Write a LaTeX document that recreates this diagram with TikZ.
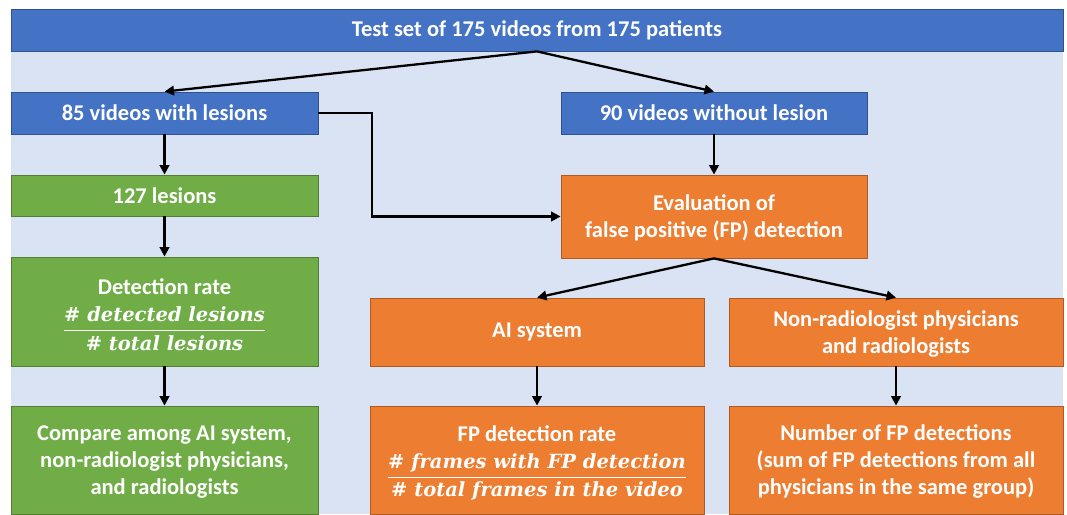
\documentclass[tikz,border=0pt]{standalone}
\usepackage{amsmath}
\usepackage{fontspec}
\setmainfont{Carlito}
\newfontfamily\mathserif{DejaVu Serif}
\usetikzlibrary{arrows.meta}
\definecolor{bg}{HTML}{DAE3F3}
\definecolor{bluef}{HTML}{4472C4}
\definecolor{blued}{HTML}{2F528F}
\definecolor{greenf}{HTML}{70AD47}
\definecolor{greend}{HTML}{507E32}
\definecolor{orangef}{HTML}{ED7D31}
\definecolor{oranged}{HTML}{AE5A21}
\newcommand{\myfrac}[2]{{\fontsize{19.5}{22}\selectfont$\genfrac{}{}{1.4pt}{0}{\text{\mathserif\bfseries #1}}{\text{\mathserif\bfseries #2}}$}}
\begin{document}
\begin{tikzpicture}[x=1pt,y=-1pt,
  box/.style={rectangle, inner sep=0pt, line width=0.8pt, text=white,
    font=\fontsize{22.5}{27}\selectfont\bfseries, align=center},
  bluebox/.style={box, fill=bluef, draw=blued},
  greenbox/.style={box, fill=greenf, draw=greend},
  orangebox/.style={box, fill=orangef, draw=oranged},
  arr/.style={line width=2.3pt, -{Triangle[length=9.5pt,width=9.5pt]}},
]
\useasboundingbox (0,0) rectangle (1067,514);
\fill[bg] (11,9) rectangle (1063,514);

\node[bluebox, minimum width=1052pt, minimum height=42pt] (top) at (537,30) {Test set of 175 videos from 175 patients};
\node[bluebox, minimum width=307pt, minimum height=42pt] (v85) at (164.5,113) {85 videos with lesions};
\node[bluebox, minimum width=306pt, minimum height=42pt] (v90) at (714,113) {90 videos without lesion};
\node[greenbox, minimum width=307pt, minimum height=41pt] (les) at (164.5,195.5) {127 lesions};
\node[greenbox, minimum width=307pt, minimum height=109pt] (det) at (164.5,311.5)
  {\rule{0pt}{22pt}Detection rate\\[11pt] \myfrac{\# \itshape detected lesions}{\# \itshape total lesions}};
\node[greenbox, minimum width=307pt, minimum height=108pt] (cmp) at (164.5,460)
  {\rule{0pt}{19pt}Compare among AI system,\\ non-radiologist physicians,\\ and radiologists};
\node[orangebox, minimum width=306pt, minimum height=83pt] (eval) at (714,216.5)
  {\rule{0pt}{19pt}Evaluation of\\ false positive (FP) detection};
\node[orangebox, minimum width=334pt, minimum height=68pt] (ai) at (537,332) {AI system};
\node[orangebox, minimum width=334pt, minimum height=68pt] (nr) at (896,332)
  {\rule{0pt}{19pt}Non-radiologist physicians\\ and radiologists};
\node[orangebox, minimum width=334pt, minimum height=108pt] (fpr) at (537,460)
  {\rule{0pt}{22pt}FP detection rate\\[11pt] \myfrac{\# \itshape frames with FP detection}{\# \itshape total frames in the video}};
\node[orangebox, minimum width=334pt, minimum height=108pt] (nfp) at (896,460)
  {\rule{0pt}{19pt}Number of FP detections\\ (sum of FP detections from all\\ physicians in the same group)};

\draw[arr] (top.south) -- (v85.north);
\draw[arr] (top.south) -- (v90.north);
\draw[arr] (v85) -- (les);
\draw[arr] (les) -- (det);
\draw[arr] (det) -- (cmp);
\draw[arr] (v90) -- (eval);
\draw[arr] (v85.east) -| (372,216.5) -- (eval.west);
\draw[arr] (eval.south) -- (ai.north);
\draw[arr] (eval.south) -- (nr.north);
\draw[arr] (ai) -- (fpr);
\draw[arr] (nr) -- (nfp);
\end{tikzpicture}
\end{document}
